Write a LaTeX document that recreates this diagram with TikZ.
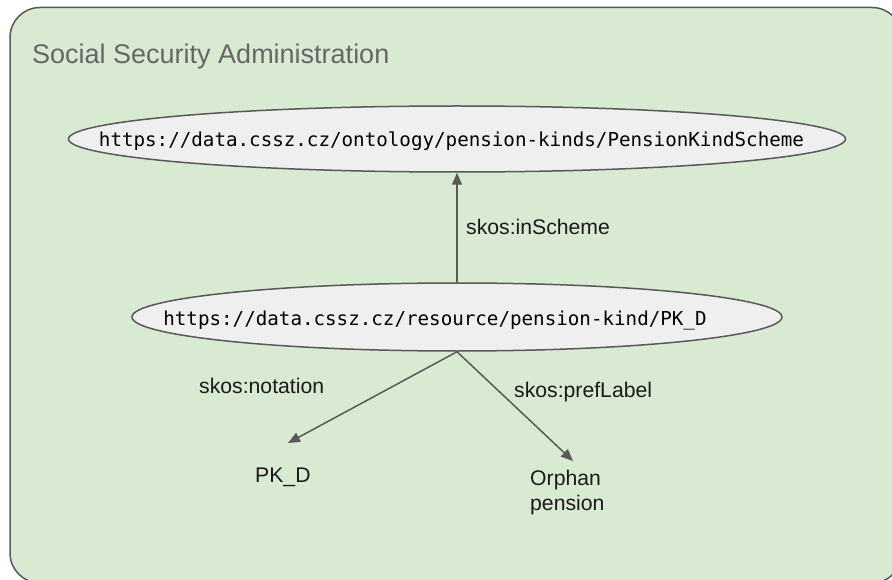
\documentclass[tikz,border=0pt]{standalone}
\usepackage{fontspec}
\setmainfont{Liberation Sans}
\newfontfamily\monofont{DejaVu Sans Mono}
\usetikzlibrary{shapes.geometric,arrows.meta}
\definecolor{boxfill}{HTML}{D9EAD3}
\definecolor{edgegray}{HTML}{595959}
\definecolor{ellfill}{HTML}{EFEFEF}
\definecolor{titlegray}{HTML}{666666}
\definecolor{labelblack}{HTML}{1A1A1A}
\begin{document}
\begin{tikzpicture}[x=1pt,y=-1pt,
  uri/.style={ellipse, draw=edgegray, fill=ellfill, line width=1.5pt, inner sep=0pt,
    text height=20pt, text depth=4pt, font=\monofont\fontsize{19.2}{22}\selectfont},
  lbl/.style={inner sep=0pt, anchor=base west, font=\fontsize{21.2}{25}\selectfont, text=labelblack},
  rel/.style={draw=edgegray, line width=1.5pt, -{Triangle[length=12pt,width=10pt]}}
]
\useasboundingbox (0,0) rectangle (892,580);
\draw[draw=edgegray, fill=boxfill, line width=1.5pt, rounded corners=30pt] (10,7.5) rectangle (902,583);

\node[anchor=base west, inner sep=0pt, font=\fontsize{27}{30}\selectfont, text=titlegray] (title) at (32,64) {Social Security Administration};

\node[uri, minimum width=777pt, minimum height=66pt] (e1) at (457,139)
  {\makebox[0pt]{https://data.cssz.cz/ontology/pension-kinds/PensionKindScheme\hspace*{11pt}}};
\node[uri, minimum width=650pt, minimum height=68pt] (e2) at (457,317)
  {\makebox[0pt]{https://data.cssz.cz/resource/pension-kind/PK\_D\hspace*{44pt}}};

\node[lbl] (l1) at (466,235) {skos:inScheme};
\node[lbl] (l2) at (199,393) {skos:notation};
\node[lbl] (l3) at (514,397) {skos:prefLabel};
\node[lbl] (pkd) at (255,482) {PK\_D};
\node[lbl, anchor=north west, align=left] (orph) at (530,469.7) {Orphan\\pension};

\coordinate (t1) at (288,443);
\coordinate (t2) at (573,461);

\draw[rel] (e2.north) -- (e1.south);
\draw[rel] (e2.south) -- (t1);
\draw[rel] (e2.south) -- (t2);
\end{tikzpicture}
\end{document}
